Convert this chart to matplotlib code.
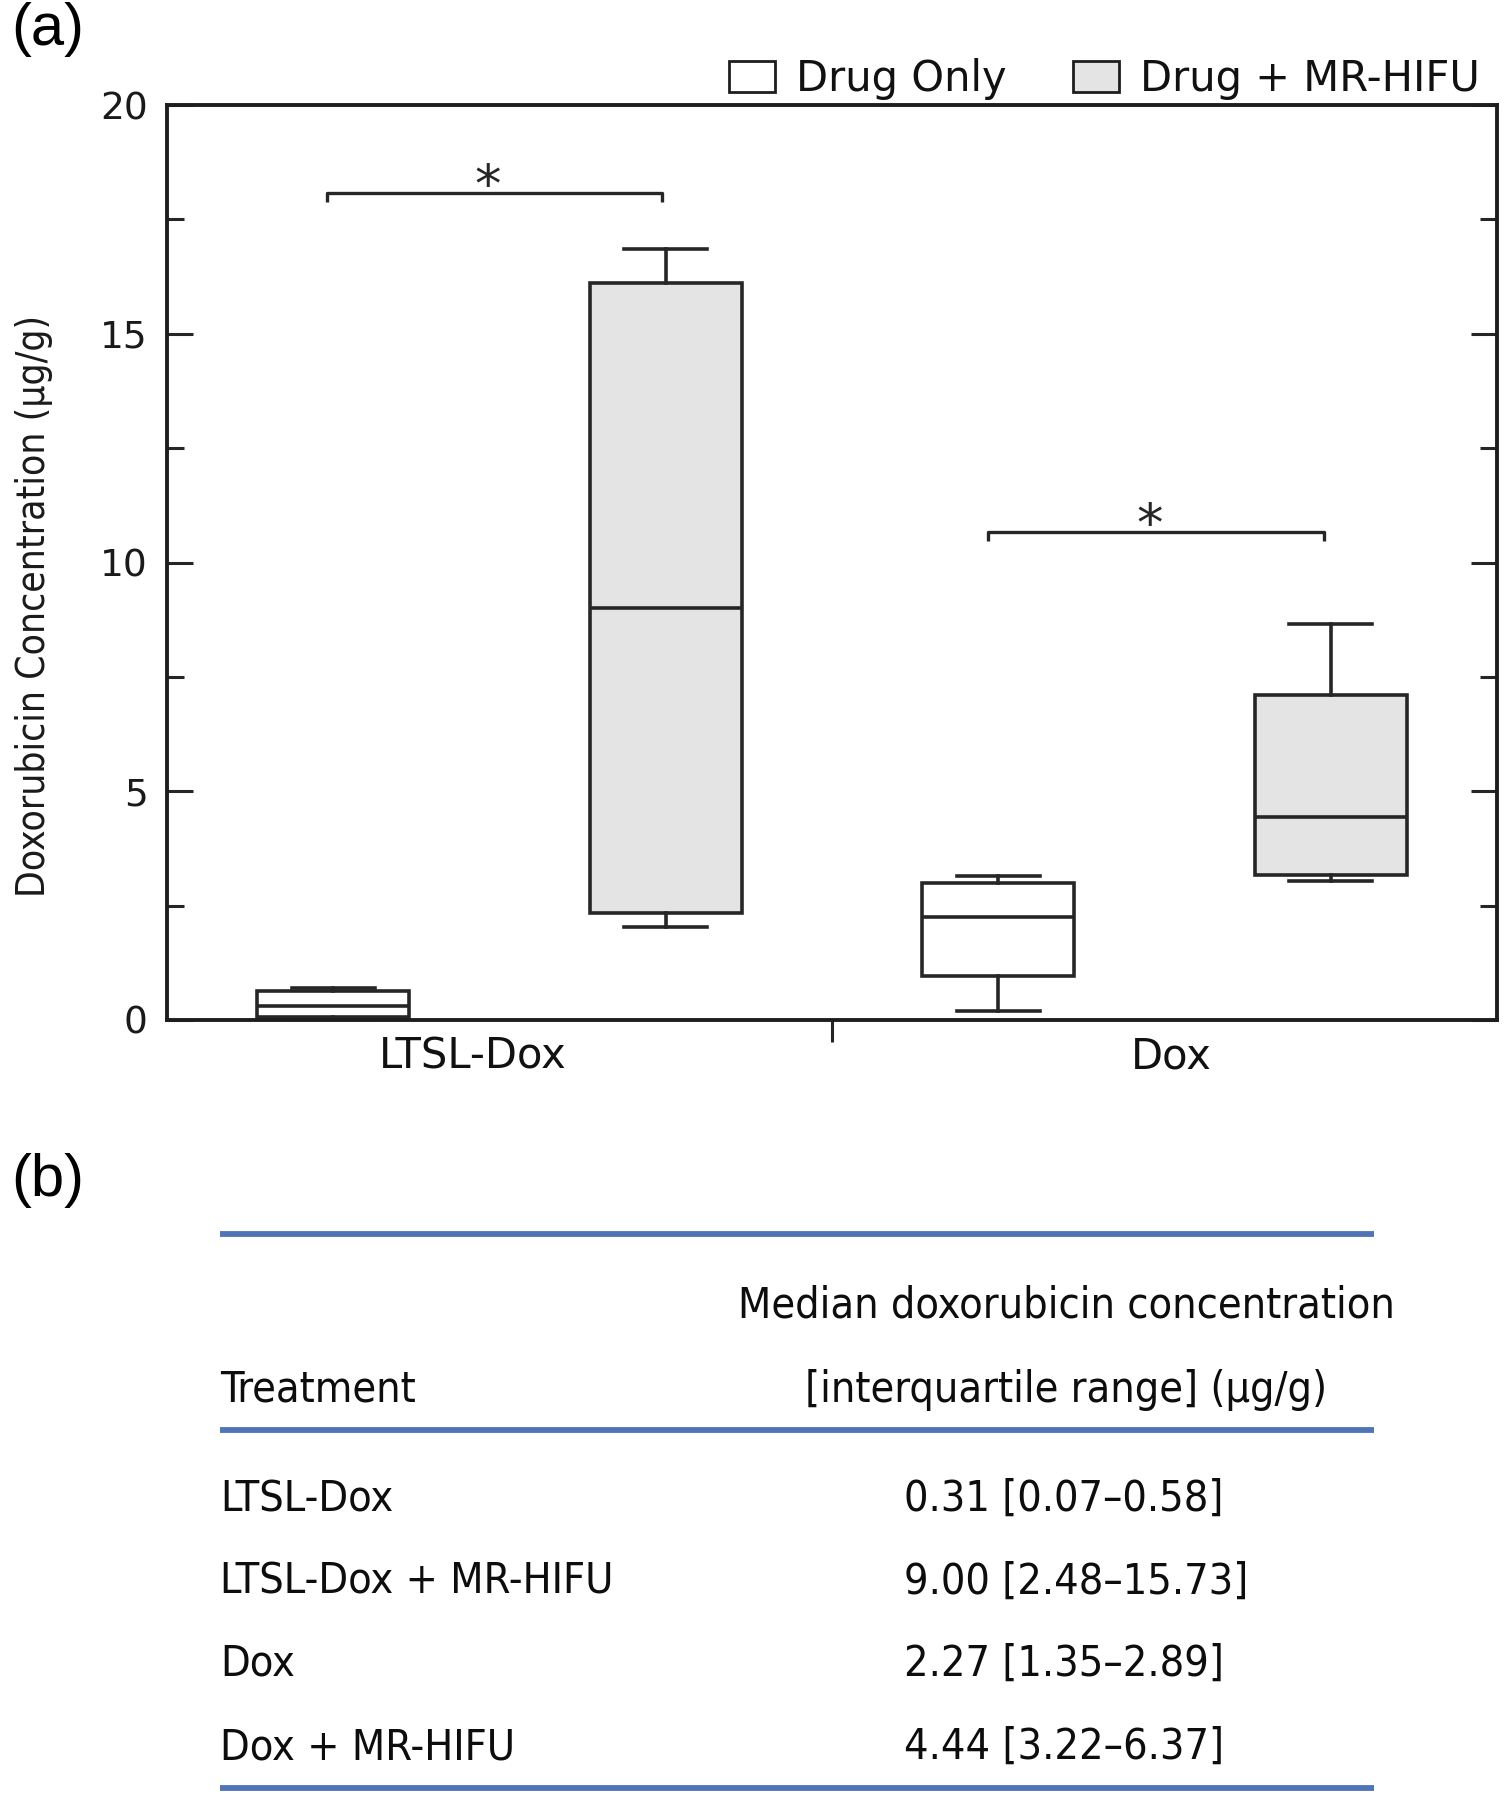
import matplotlib
matplotlib.use('Agg')
import matplotlib.pyplot as plt
from matplotlib.patches import Patch
from matplotlib.ticker import FixedLocator, MultipleLocator
from matplotlib import font_manager as fm

# ---------------- data ----------------
groups = ['LTSL-Dox', 'Dox']
group_pos = [1.42, 3.52]
series = ['Drug Only', 'Drug + MR-HIFU']
series_fill = ['#ffffff', '#e4e4e4']

box_positions = [1, 2, 3, 4]
box_series = [0, 1, 0, 1]
box_med = [0.30, 9.00, 2.26, 4.44]
box_q1 = [0.07, 2.33, 0.96, 3.17]
box_q3 = [0.63, 16.12, 2.99, 7.10]
box_lo = [0.03, 2.03, 0.20, 3.04]
box_hi = [0.69, 16.85, 3.15, 8.66]

sig_pairs = [(0.98, 1.99), (2.97, 3.98)]
sig_y = [18.07, 10.67]
sig_label = '*'

yticks_major = [0, 5, 10, 15, 20]
ylabel = 'Doxorubicin Concentration (\u03bcg/g)'

table_header = ['Treatment', 'Median doxorubicin concentration', '[interquartile range] (\u03bcg/g)']
table_treatments = ['LTSL-Dox', 'LTSL-Dox + MR-HIFU', 'Dox', 'Dox + MR-HIFU']
table_median = [0.31, 9.00, 2.27, 4.44]
table_q1 = [0.07, 2.48, 1.35, 3.22]
table_q3 = [0.58, 15.73, 2.89, 6.37]

# ---------------- fonts ----------------
names = {f.name for f in fm.fontManager.ttflist}
if 'Liberation Sans Narrow' in names:
    narrow = dict(family=['Liberation Sans Narrow', 'DejaVu Sans'])
    tsize, ysize = 36, 32
else:
    narrow = dict(family=['DejaVu Sans'], stretch='condensed')
    tsize, ysize = 31, 28
plain = ['Liberation Sans', 'DejaVu Sans']
wide = ['DejaVu Sans']

W, H, DPI = 1509, 1800, 100
fig = plt.figure(figsize=(W / DPI, H / DPI), dpi=DPI)
fig.patch.set_facecolor('white')

edge = '#262626'
lw = 2.6

# ---------------- panel (a) ----------------
ax = fig.add_axes([167 / W, 1 - 1020 / H, (1497 - 167) / W, (1020 - 105) / H])
stats = [dict(med=m, q1=a, q3=b, whislo=lo, whishi=hi, fliers=[])
         for m, a, b, lo, hi in zip(box_med, box_q1, box_q3, box_lo, box_hi)]
bp = ax.bxp(stats, positions=box_positions, widths=0.456, capwidths=0.25,
            patch_artist=True, showfliers=False,
            boxprops=dict(edgecolor=edge, linewidth=lw),
            medianprops=dict(color=edge, linewidth=lw),
            whiskerprops=dict(color=edge, linewidth=lw),
            capprops=dict(color=edge, linewidth=lw))
for patch, s in zip(bp['boxes'], box_series):
    patch.set_facecolor(series_fill[s])

for (x0, x1), y in zip(sig_pairs, sig_y):
    ax.plot([x0, x0, x1, x1], [y - 0.2, y, y, y - 0.2], color=edge, lw=2.4,
            solid_capstyle='butt')
    ax.text((x0 + x1) / 2 - 0.02, y - 0.20, sig_label, ha='center', va='baseline',
            fontsize=38, color=edge, family=wide)

ax.set_xlim(0.5, 4.5)
ax.set_ylim(0, 20)
ax.set_xticks(group_pos)
ax.set_xticklabels(groups, family=wide, fontsize=30, color='#111111')
ax.xaxis.set_minor_locator(FixedLocator([2.5]))
ax.tick_params(axis='x', which='major', length=0, pad=11)
ax.tick_params(axis='x', which='minor', length=16, width=2.2, direction='out',
               color=edge, top=False)
ax.set_yticks(yticks_major)
ax.set_yticklabels([str(v) for v in yticks_major], family=wide, fontsize=27,
                   color='#1a1a1a')
ax.yaxis.set_minor_locator(MultipleLocator(2.5))
ax.tick_params(axis='y', which='major', direction='in', length=18.5, width=2.2,
               left=True, right=True, pad=14, color=edge)
ax.tick_params(axis='y', which='minor', direction='in', length=12, width=2.2,
               left=True, right=True, color=edge)
for sp in ax.spines.values():
    sp.set_linewidth(2.8)
    sp.set_color('#1e1e1e')

ax.set_ylabel(ylabel, fontsize=ysize, color='#1a1a1a', va='center', **narrow)
ax.yaxis.set_label_coords(-0.100, 0.452)

handles = [Patch(facecolor=series_fill[i], edgecolor='#1e1e1e', linewidth=2.0)
           for i in range(len(series))]
ax.legend(handles, series, loc='lower right', bbox_to_anchor=(1480 / W, 1 - 100 / H),
          bbox_transform=fig.transFigure, ncol=2, frameon=False,
          prop=dict(family=wide, size=30), handlelength=1.1, handleheight=0.77,
          handletextpad=0.5, columnspacing=1.6, borderpad=0, borderaxespad=0,
          labelcolor='#111111')

fig.text(11 / W, 1 - 2 / H, '(a)', family=plain, fontsize=43, va='top', ha='left')
fig.text(11 / W, 1 - 1153 / H, '(b)', family=plain, fontsize=43, va='top', ha='left')

# ---------------- panel (b): table ----------------
tax = fig.add_axes([0, 0, 1, 1])
tax.set_xlim(0, W)
tax.set_ylim(H, 0)
tax.axis('off')
line_color = '#4f74b8'
for yl in [1234, 1430, 1788]:
    tax.plot([220, 1374], [yl, yl], color=line_color, lw=4.2, solid_capstyle='butt')

tc = '#0d0d0d'
tax.text(220, 1402, table_header[0], ha='left', va='baseline', fontsize=tsize, color=tc, **narrow)
tax.text(1066, 1318, table_header[1], ha='center', va='baseline', fontsize=tsize, color=tc, **narrow)
tax.text(1066, 1402, table_header[2], ha='center', va='baseline', fontsize=tsize, color=tc, **narrow)

row_base = [1511, 1594, 1676, 1759]
for yb, name, m, a, b in zip(row_base, table_treatments, table_median, table_q1, table_q3):
    tax.text(220, yb, name, ha='left', va='baseline', fontsize=tsize, color=tc, **narrow)
    tax.text(904, yb, f'{m:.2f} [{a:.2f}\u2013{b:.2f}]', ha='left', va='baseline',
             fontsize=tsize, color=tc, **narrow)

fig.savefig('out.png', dpi=DPI, facecolor='white')
